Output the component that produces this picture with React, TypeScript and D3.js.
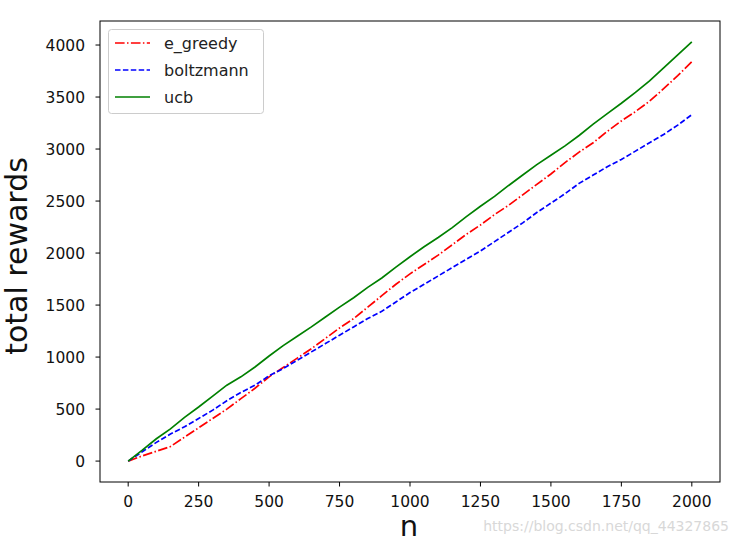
import React from "react";
import * as d3 from "d3";

const steps = [0,50,100,150,200,250,300,350,400,450,500,550,600,650,700,750,800,850,900,950,1000,1050,1100,1150,1200,1250,1300,1350,1400,1450,1500,1550,1600,1650,1700,1750,1800,1850,1900,1950,2000];
const eGreedy = [0,50,95,140,230,320,410,500,600,700,810,900,990,1080,1180,1280,1370,1480,1590,1700,1800,1890,1980,2080,2180,2270,2370,2460,2560,2660,2760,2870,2970,3060,3170,3270,3360,3460,3580,3705,3840];
const boltzmann = [0,90,180,260,330,410,490,580,660,730,820,890,970,1050,1130,1210,1290,1370,1440,1530,1620,1700,1780,1860,1940,2020,2110,2200,2290,2390,2480,2570,2670,2750,2830,2900,2980,3060,3140,3230,3330];
const ucb = [0,105,215,310,420,520,625,730,810,905,1010,1110,1200,1290,1385,1480,1570,1670,1760,1865,1965,2060,2150,2245,2350,2450,2545,2650,2750,2850,2940,3030,3130,3240,3340,3440,3545,3655,3780,3905,4030];

const xTicks = [0,250,500,750,1000,1250,1500,1750,2000];
const yTicks = [0,500,1000,1500,2000,2500,3000,3500,4000];

const series = [
  { name: "e_greedy", values: eGreedy, color: "#ff0000", dash: "9.6,2.4,1.5,2.4" },
  { name: "boltzmann", values: boltzmann, color: "#0000ff", dash: "5.5,2.4" },
  { name: "ucb", values: ucb, color: "#008000", dash: "" },
];

export default function App() {
  const W = 740, H = 544;
  const left = 100, right = 720, top = 21, bottom = 482;
  const x = d3.scaleLinear().domain([-100, 2100]).range([left, right]);
  const y = d3.scaleLinear().domain([-201, 4231]).range([bottom, top]);
  const font = "DejaVu Sans, sans-serif";
  const line = (vals: number[]) =>
    d3.line<number>().x((_, i) => x(steps[i])).y((d) => y(d))(vals) || "";
  return (
    <svg width={W} height={H} style={{ position: "absolute", left: 0, top: 0, background: "#fff" }}>
      <rect x={0} y={0} width={W} height={H} fill="#fff" />
      {series.map((s) => (
        <path key={s.name} d={line(s.values)} fill="none" stroke={s.color} strokeWidth={1.7}
          strokeDasharray={s.dash || undefined} />
      ))}
      <rect x={left} y={top} width={right - left} height={bottom - top} fill="none" stroke="#000" strokeWidth={1} />
      {xTicks.map((t) => (
        <g key={"x" + t}>
          <line x1={x(t)} x2={x(t)} y1={bottom} y2={bottom + 4.5} stroke="#000" strokeWidth={1} />
          <text x={x(t)} y={507} textAnchor="middle" fontFamily={font} fontSize={15.5} fill="#111">{t}</text>
        </g>
      ))}
      {yTicks.map((t) => (
        <g key={"y" + t}>
          <line x1={left - 4.5} x2={left} y1={y(t)} y2={y(t)} stroke="#000" strokeWidth={1} />
          <text x={85} y={y(t) + 5.7} textAnchor="end" fontFamily={font} fontSize={15.5} fill="#111">{t}</text>
        </g>
      ))}
      <text x={409} y={536} textAnchor="middle" fontFamily={font} fontSize={29} fill="#111">n</text>
      <text transform={`translate(27, 256) rotate(-90)`} textAnchor="middle" fontFamily={font} fontSize={30} fill="#111">total rewards</text>
      <g>
        <rect x={108.5} y={29.5} width={155} height={84} rx={3} fill="#fff" fillOpacity={0.8} stroke="#ccc" strokeWidth={1} />
        {series.map((s, i) => (
          <g key={"l" + s.name}>
            <line x1={115} x2={150} y1={43 + i * 27} y2={43 + i * 27} stroke={s.color} strokeWidth={1.7}
              strokeDasharray={s.dash || undefined} />
            <text x={164} y={49 + i * 27} fontFamily={font} fontSize={16} fill="#222">{s.name}</text>
          </g>
        ))}
      </g>
      <text x={729} y={531} textAnchor="end" fontFamily={font} fontSize={14} fill="#d8d8d8">https://blog.csdn.net/qq_44327865</text>
    </svg>
  );
}
